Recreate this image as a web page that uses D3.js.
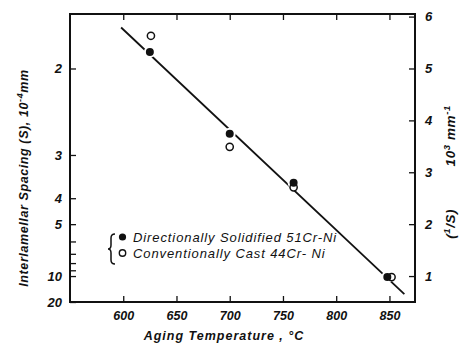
<!DOCTYPE html>
<html><head><meta charset="utf-8">
<script src="https://cdn.jsdelivr.net/npm/d3@7"></script>
<style>body{margin:0;background:#fff}svg{display:block}text{font-family:"Liberation Sans",Arial,sans-serif;font-style:italic;fill:#111}</style>
</head><body><svg id="c" width="465" height="346"></svg>
<script>
const xTicks=[600,650,700,750,800,850];
const rightTicks=[1,2,3,4,5,6];
const leftTicks=[2,3,4,5,6,7,8,9,10,20];
const leftLabels=[2,3,4,5,10,20];
const dsTemp=[625,700,760,848];
const dsInv=[5.32,3.74,2.80,0.98];
const ccTemp=[626,700,760,852];
const ccInv=[5.63,3.49,2.71,0.98];
const fitTemp=[598,864];
const fitInv=[5.79,0.65];
const legendLabels=["Directionally Solidified 51Cr-Ni","Conventionally Cast 44Cr- Ni"];

const svg=d3.select("#c");
const L=70,R=415,T=14,B=302;
const x=d3.scaleLinear().domain([550,874]).range([L,R]);
const y=d3.scaleLinear().domain([0.5,6.05]).range([B,T]);

const ink="#111";
svg.append("rect").attr("x",L).attr("y",T).attr("width",R-L).attr("height",B-T)
 .attr("fill","none").attr("stroke",ink).attr("stroke-width",2);

const xb=d3.axisBottom(x).tickValues(xTicks).tickSizeInner(-6).tickSizeOuter(0).tickPadding(12);
const gx=svg.append("g").attr("transform",`translate(0,${B})`).call(xb);
gx.select(".domain").remove();
gx.selectAll("line").attr("stroke",ink).attr("stroke-width",1.3);
gx.selectAll("text").attr("font-size",12.5).attr("font-weight","bold").attr("dy","0.5em");
const xt=d3.axisTop(x).tickValues(xTicks).tickSizeInner(-6).tickSizeOuter(0).tickFormat("");
const gxt=svg.append("g").attr("transform",`translate(0,${T})`).call(xt);
gxt.select(".domain").remove();
gxt.selectAll("line").attr("stroke",ink).attr("stroke-width",1.3);

const yr=d3.axisRight(y).tickValues(rightTicks).tickFormat(d3.format("d")).tickSizeInner(-6).tickSizeOuter(0).tickPadding(10);
const gr=svg.append("g").attr("transform",`translate(${R},0)`).call(yr);
gr.select(".domain").remove();
gr.selectAll("line").attr("stroke",ink).attr("stroke-width",1.3);
gr.selectAll("text").attr("font-size",13).attr("font-weight","bold");

const yl=d3.axisLeft(y).tickValues(leftTicks.map(s=>10/s)).tickSizeInner(-6).tickSizeOuter(0).tickPadding(8)
 .tickFormat(v=>{const s=Math.round(10/v);return leftLabels.includes(s)?String(s):"";});
const gl=svg.append("g").attr("transform",`translate(${L},0)`).call(yl);
gl.select(".domain").remove();
gl.selectAll("line").attr("stroke",ink).attr("stroke-width",1.3);
gl.selectAll("text").attr("font-size",13).attr("font-weight","bold");

svg.append("path").datum(fitTemp.map((t,i)=>[t,fitInv[i]]))
 .attr("d",d3.line().x(d=>x(d[0])).y(d=>y(d[1])))
 .attr("stroke",ink).attr("stroke-width",1.8).attr("fill","none");

const ds=dsTemp.map((t,i)=>[t,dsInv[i]]);
const cc=ccTemp.map((t,i)=>[t,ccInv[i]]);
svg.append("g").selectAll("circle").data(ds).join("circle")
 .attr("cx",d=>x(d[0])).attr("cy",d=>y(d[1])).attr("r",6).attr("fill","#fff");
svg.append("g").selectAll("circle").data(cc).join("circle")
 .attr("cx",d=>x(d[0])).attr("cy",d=>y(d[1])).attr("r",3.6).attr("fill","#fff").attr("stroke",ink).attr("stroke-width",1.5);
svg.append("g").selectAll("circle").data(ds).join("circle")
 .attr("cx",d=>x(d[0])).attr("cy",d=>y(d[1])).attr("r",4).attr("fill",ink);

// legend
svg.append("path").attr("d","M115,234 Q111,234 111,238 L111,245 Q111,249 108,249 Q111,249 111,253 L111,260 Q111,264 115,264")
 .attr("fill","none").attr("stroke",ink).attr("stroke-width",1.5);
svg.append("circle").attr("cx",122.5).attr("cy",237).attr("r",3.6).attr("fill",ink);
svg.append("circle").attr("cx",122.5).attr("cy",253).attr("r",3.2).attr("fill","#fff").attr("stroke",ink).attr("stroke-width",1.4);
svg.selectAll(".lg").data(legendLabels).join("text").attr("class","lg")
 .attr("x",133).attr("y",(d,i)=>241.5+i*16).attr("font-size",13).attr("letter-spacing",0.9).text(d=>d);

svg.append("text").attr("x",224).attr("y",340).attr("text-anchor","middle")
 .attr("font-size",12.5).attr("font-weight","bold").attr("letter-spacing",1).text("Aging Temperature , °C");

const lt=svg.append("text").attr("transform","translate(28,178) rotate(-90)").attr("text-anchor","middle")
 .attr("font-size",12.5).attr("font-weight","bold").attr("letter-spacing",0.6);
lt.append("tspan").text("Interlamellar  Spacing (S), 10");
lt.append("tspan").attr("dy",-5).attr("font-size",9).text("-4");
lt.append("tspan").attr("dy",5).text("mm");

const rt=svg.append("text").attr("transform","translate(455,172) rotate(-90)").attr("text-anchor","middle")
 .attr("font-size",13.5).attr("font-weight","bold").attr("letter-spacing",0.6);
rt.append("tspan").text("(");
rt.append("tspan").attr("dy",-5).attr("font-size",9.5).text("1");
rt.append("tspan").attr("dy",5).text("/S)");
rt.append("tspan").text("\u2003\u2003\u200310");
rt.append("tspan").attr("dy",-5).attr("font-size",9.5).text("3");
rt.append("tspan").attr("dy",5).text(" mm");
rt.append("tspan").attr("dy",-5).attr("font-size",9.5).text("-1");
</script></body></html>
